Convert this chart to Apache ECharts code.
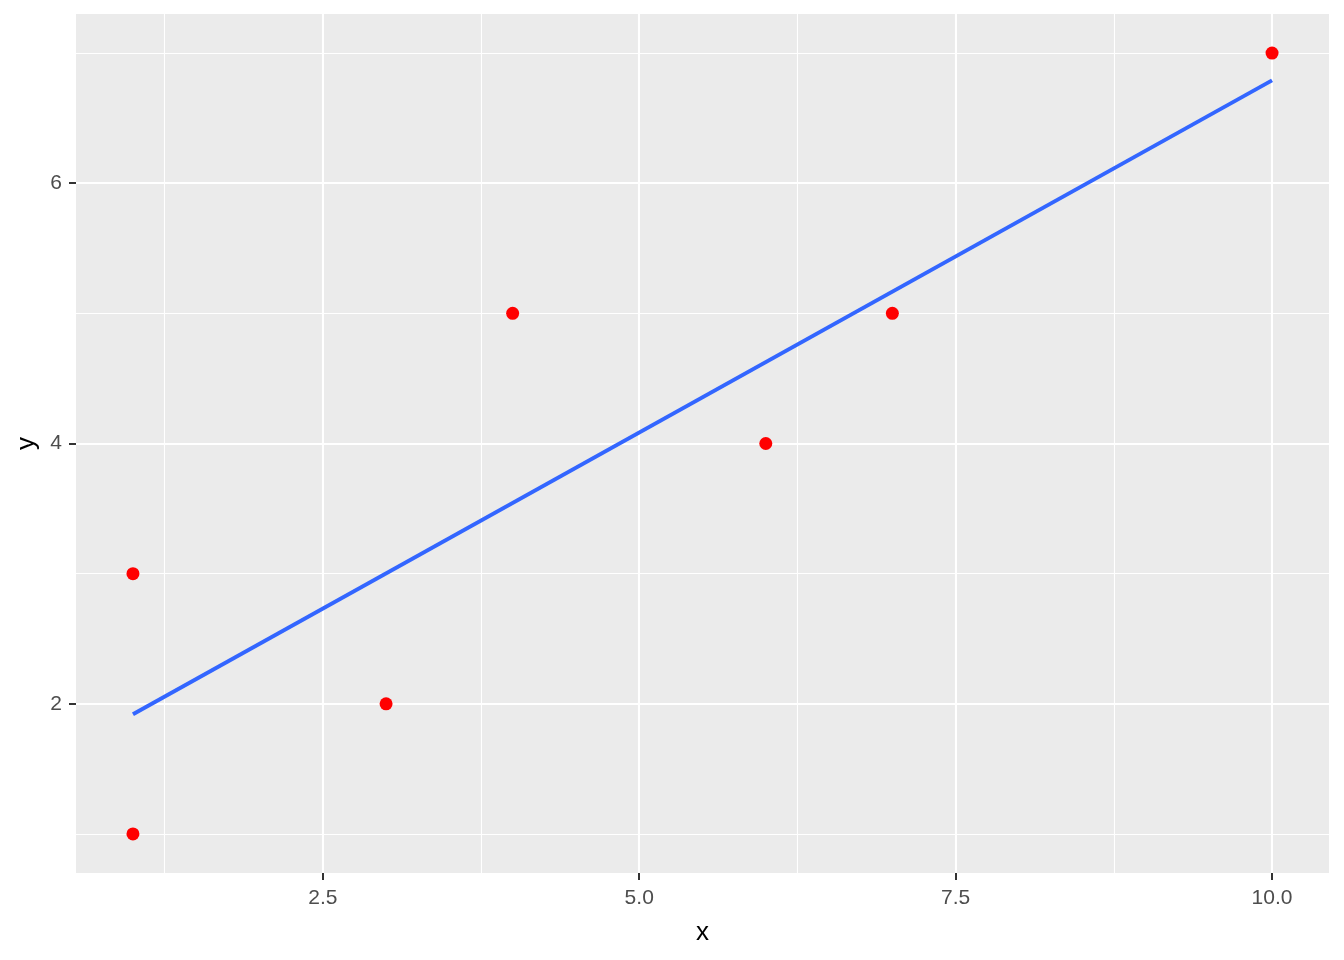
<!DOCTYPE html>
<html>
<head>
<meta charset="utf-8">
<script src="https://cdn.jsdelivr.net/npm/echarts@6/dist/echarts.min.js"></script>
<style>html,body{margin:0;padding:0;background:#fff}#c{width:1344px;height:960px}</style>
</head>
<body>
<div id="c"></div>
<script>
const xVals = [1, 1, 3, 4, 6, 7, 10];
const yVals = [1, 3, 2, 5, 4, 5, 7];
const fitX = [1, 10];
const fitY = [1.92, 6.79];
const xMajor = [2.5, 5, 7.5, 10];
const xMinor = [1.25, 3.75, 6.25, 8.75];
const yMajor = [2, 4, 6];
const yMinor = [1, 3, 5, 7];
const xRange = [0.55, 10.45];
const yRange = [0.7, 7.3];

const points = xVals.map((x, i) => [x, yVals[i]]);
const fit = fitX.map((x, i) => [x, fitY[i]]);

const chart = echarts.init(document.getElementById('c'), null, {renderer: 'canvas'});
const font = 'Liberation Sans, Arial, sans-serif';
chart.setOption({
  animation: false,
  backgroundColor: '#ffffff',
  grid: {left: 76, right: 15, top: 14, bottom: 87, show: true, backgroundColor: '#EBEBEB', borderWidth: 0, containLabel: false},
  xAxis: {
    type: 'value', min: xRange[0], max: xRange[1],
    name: 'x', nameLocation: 'middle', nameGap: 47,
    nameTextStyle: {color: '#000', fontSize: 26, fontFamily: font},
    axisLine: {show: false, onZero: false},
    axisTick: {show: true, length: 7, customValues: xMajor, lineStyle: {color: '#333333', width: 2}},
    axisLabel: {customValues: xMajor, margin: 15, color: '#4D4D4D', fontSize: 21, fontFamily: font,
      formatter: v => v.toFixed(1)},
    splitLine: {show: false}
  },
  yAxis: {
    type: 'value', min: yRange[0], max: yRange[1],
    name: 'y', nameLocation: 'middle', nameGap: 33, nameRotate: 90,
    nameTextStyle: {color: '#000', fontSize: 26, fontFamily: font},
    axisLine: {show: false, onZero: false},
    axisTick: {show: true, length: 7, customValues: yMajor, lineStyle: {color: '#333333', width: 2}},
    axisLabel: {customValues: yMajor, margin: 14, color: '#4D4D4D', fontSize: 21, fontFamily: font,
      formatter: v => String(v)},
    splitLine: {show: false}
  },
  series: [
    {
      type: 'line', data: [], z: 1, silent: true,
      markLine: {z: 1, silent: true, symbol: 'none', label: {show: false},
        lineStyle: {color: '#ffffff', width: 1.1, type: 'solid'},
        data: xMinor.map(v => ({xAxis: v})).concat(yMinor.map(v => ({yAxis: v})))}
    },
    {
      type: 'line', data: [], z: 1, silent: true,
      markLine: {z: 1, silent: true, symbol: 'none', label: {show: false},
        lineStyle: {color: '#ffffff', width: 2.1, type: 'solid'},
        data: xMajor.map(v => ({xAxis: v})).concat(yMajor.map(v => ({yAxis: v})))}
    },
    {
      type: 'line', data: fit, z: 6, showSymbol: false, symbol: 'none',
      lineStyle: {color: '#3366FF', width: 4}
    },
    {
      type: 'scatter', data: points, z: 10, symbol: 'circle', symbolSize: 13,
      itemStyle: {color: '#FF0000', opacity: 1}
    }
  ]
});
</script>
</body>
</html>
